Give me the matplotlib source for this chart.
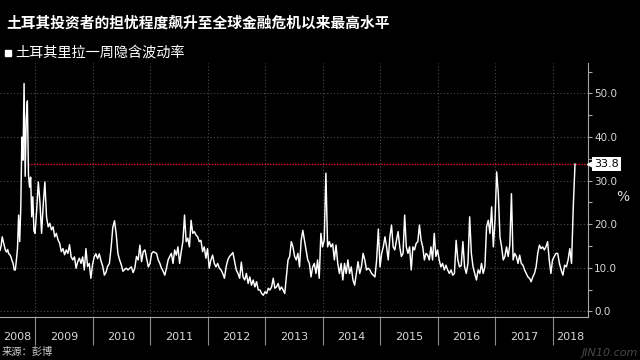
import numpy as np
import matplotlib
matplotlib.use("Agg")
import matplotlib.pyplot as plt
from matplotlib import transforms
from matplotlib.patches import Rectangle
from matplotlib.ticker import FixedLocator, MultipleLocator, FuncFormatter, NullFormatter

# ---------------- text ----------------
title = "土耳其投资者的担忧程度飙升至全球金融危机以来最高水平"
series_name = "土耳其里拉一周隐含波动率"
source = "来源：彭博"
unit = "%"
watermark = "JIN10.com"

# ---------------- data (USD/TRY 1-week implied volatility, %) ----------------
first_obs = 2008.391   # first observation shown (late May 2008)
last_obs = 2018.391    # last observation (late May 2018)

vol_2008 = [14.0, 15.0, 17.1, 16.0, 15.0, 14.0, 13.6, 14.2, 13.2, 13.0, 12.5, 11.6,
            11.0, 9.5, 9.5, 11.8, 14.5, 22.1, 16.0, 24.0, 40.0, 34.7, 52.3, 31.0,
            44.0, 48.3, 31.5, 28.5, 30.8, 21.7, 26.3, 18.5]
vol_2009 = [17.9, 23.2, 29.7, 25.0, 17.9, 24.5, 29.7, 21.7, 19.4, 20.2, 18.7, 19.4,
            17.1, 17.9, 16.4, 15.6, 13.7, 14.4, 13.0, 14.1, 13.3, 15.3, 12.5, 11.8,
            12.5, 9.9, 11.4, 12.2, 11.0, 12.5, 9.5, 14.4, 10.3, 11.0, 7.6]
vol_2010 = [10.7, 12.5, 13.2, 12.1, 13.2, 11.6, 10.4, 8.3, 9.0, 10.4, 11.0, 14.7,
            19.3, 20.8, 17.8, 13.3, 11.8, 10.7, 9.2, 9.6, 9.9, 9.5, 9.9, 10.2,
            8.9, 9.9, 12.6, 11.8, 15.2, 11.4, 13.7, 14.1, 12.2, 10.2]
vol_2011 = [11.0, 13.3, 13.7, 13.5, 13.3, 11.8, 11.0, 9.9, 9.2, 8.3, 9.9, 11.8,
            12.6, 13.3, 11.0, 14.1, 12.9, 14.8, 11.0, 13.7, 16.0, 22.1, 16.0, 16.8,
            14.8, 20.9, 17.9, 18.3, 17.5, 17.1, 16.0, 16.3, 13.7, 14.8, 12.2]
vol_2012 = [14.4, 9.9, 11.8, 12.9, 11.0, 10.2, 11.0, 9.9, 9.5, 8.7, 7.6, 10.2,
            11.8, 12.6, 13.0, 13.5, 11.5, 9.5, 8.7, 7.6, 11.3, 7.9, 7.2, 8.7,
            6.4, 7.9, 6.0, 7.2, 5.6, 6.8, 4.9, 4.9, 4.1, 3.7]
vol_2013 = [4.5, 4.1, 5.3, 4.9, 5.6, 7.6, 5.3, 5.6, 6.4, 4.9, 5.6, 4.9,
            4.1, 7.9, 11.8, 12.6, 16.0, 14.8, 12.6, 11.8, 13.3, 10.2, 16.3, 18.6,
            16.3, 14.1, 11.8, 11.0, 7.9, 10.2, 11.0, 8.7, 11.8, 7.6, 17.9]
vol_2014 = [14.8, 16.3, 31.7, 14.8, 16.0, 14.8, 15.5, 11.8, 15.2, 11.0, 8.7, 11.0,
            7.2, 11.0, 8.7, 11.8, 8.7, 10.2, 7.2, 6.0, 8.7, 11.4, 8.7, 10.2,
            13.3, 11.8, 9.5, 9.9, 9.5, 8.7, 8.3, 7.9, 11.8, 18.9]
vol_2015 = [10.2, 13.3, 14.8, 17.1, 14.8, 11.8, 17.1, 19.8, 14.8, 14.1, 16.3, 18.3,
            14.8, 12.6, 13.3, 22.1, 14.8, 13.3, 14.8, 9.5, 14.8, 14.1, 15.6, 16.0,
            19.8, 16.3, 14.8, 11.8, 13.3, 12.9, 11.8, 14.8, 11.8, 17.9, 12.6]
vol_2016 = [14.1, 11.8, 10.2, 11.0, 9.5, 10.6, 9.5, 8.7, 9.5, 8.3, 8.7, 16.3,
            11.8, 10.2, 10.5, 16.0, 10.2, 8.7, 11.0, 21.7, 13.3, 10.2, 8.7, 7.2,
            9.5, 8.7, 11.0, 8.7, 10.2, 19.4, 20.9, 17.9, 24.0, 14.8]
vol_2017 = [20.9, 32.0, 27.0, 17.1, 14.8, 11.8, 12.6, 14.8, 12.6, 15.2, 27.0, 11.8,
            13.3, 12.6, 11.0, 12.9, 11.0, 10.6, 9.5, 8.7, 7.9, 7.6, 6.8, 7.9,
            8.7, 10.2, 13.3, 15.2, 14.4, 14.8, 14.1, 14.8, 16.0, 11.8, 8.7]
vol_2018 = [11.8, 12.6, 13.3, 13.3, 11.0, 9.5, 8.3, 10.6, 10.2, 11.8, 14.4, 11.0,
            24.0, 33.8]

full_years = list(range(2009, 2018))
full_year_values = [vol_2009, vol_2010, vol_2011, vol_2012, vol_2013,
                    vol_2014, vol_2015, vol_2016, vol_2017]
year_labels = [str(y) for y in range(2008, 2019)]
y_major = [0, 10, 20, 30, 40, 50]

# ---------------- build the time axis ----------------
t_parts = [np.linspace(first_obs, 2009, len(vol_2008), endpoint=False)]
v_parts = [np.array(vol_2008)]
for yr, vals in zip(full_years, full_year_values):
    t_parts.append(np.linspace(yr, yr + 1, len(vals), endpoint=False))
    v_parts.append(np.array(vals))
t_parts.append(np.linspace(2018, last_obs, len(vol_2018)))
v_parts.append(np.array(vol_2018))
t = np.concatenate(t_parts)
v = np.concatenate(v_parts)

latest = v[-1]
# last time the series was at or above the latest level (before the latest point)
idx = np.where(v[:-1] >= latest)[0][-1]
t_cross = t[idx] + (t[idx + 1] - t[idx]) * (v[idx] - latest) / (v[idx] - v[idx + 1])

# ---------------- figure ----------------
CJK = ["Noto Sans CJK SC", "DejaVu Sans"]
fig = plt.figure(figsize=(6.4, 3.6), dpi=100, facecolor="black")
ax = fig.add_axes([0.0, 0.1194, 0.91875, 0.7056])
ax.set_facecolor("black")

xmin, xmax = first_obs, 2018.617
ax.set_xlim(xmin, xmax)
ax.set_ylim(-1.3, 57)

grid_kw = dict(color="#4d4d4d", linewidth=0.8, linestyle=(0, (1, 2)))
ax.grid(True, which="major", axis="both", **grid_kw)
ax.set_axisbelow(True)

ax.plot(t, v, color="white", linewidth=1.05, zorder=3)
ax.plot([t_cross, xmax], [latest, latest], color="#e8102a",
        linewidth=1.0, linestyle=(0, (1, 1)), zorder=2)

for s in ("left", "top"):
    ax.spines[s].set_visible(False)
for s in ("right", "bottom"):
    ax.spines[s].set_color("#a8a8a8")
    ax.spines[s].set_linewidth(0.8)

# y axis on the right
ax.yaxis.tick_right()
ax.yaxis.set_major_locator(FixedLocator(y_major))
ax.yaxis.set_minor_locator(MultipleLocator(5))
ax.yaxis.set_major_formatter(FuncFormatter(lambda val, pos: f"{val:.1f}"))
ax.tick_params(axis="y", which="both", direction="out", length=3, width=0.8,
               color="#a8a8a8", labelcolor="#d8d8d8", labelsize=7.5, pad=1.5)

# x axis: long ticks at year boundaries, labels centred in each year
ax.xaxis.set_major_locator(FixedLocator(full_years + [2018]))
ax.xaxis.set_major_formatter(NullFormatter())
centres = [(xmin + 2009) / 2] + [y + 0.5 for y in full_years] + [(2018 + xmax) / 2]
ax.xaxis.set_minor_locator(FixedLocator(centres))
ax.xaxis.set_minor_formatter(FuncFormatter(lambda val, pos: year_labels[pos]))
ax.tick_params(axis="x", which="major", direction="out", length=20, width=0.8,
               color="#8c8c8c")
ax.tick_params(axis="x", which="minor", length=0, labelsize=8,
               labelcolor="#d8d8d8", pad=11)

# latest value flag on the right axis
blend = transforms.blended_transform_factory(ax.transAxes, ax.transData)
ax.plot([1.0], [latest], marker="<", markersize=6, color="white", clip_on=False,
        transform=blend + transforms.ScaledTranslation(3 / 100, 0, fig.dpi_scale_trans),
        zorder=5)
ax.text(1.0, latest, f"{latest:.1f}", transform=blend + transforms.ScaledTranslation(
            6.5 / 100, 0, fig.dpi_scale_trans),
        ha="left", va="center", fontsize=8, color="black", zorder=6,
        bbox=dict(boxstyle="square,pad=0.2", fc="white", ec="none"))

fig.text(623 / 640, 1 - 197 / 360, unit, fontsize=10, color="#d8d8d8",
         ha="center", va="center")

# titles
fig.text(6.7 / 640, 1 - 22.5 / 360, title, family=CJK, fontsize=10.6,
         fontweight="bold", color="white", ha="left", va="center")
fig.patches.append(Rectangle((5 / 640, 1 - 55.5 / 360), 5.5 / 640, 5.5 / 360,
                             transform=fig.transFigure, color="white"))
fig.text(15 / 640, 1 - 53 / 360, series_name, family=CJK, fontsize=10.2,
         color="white", ha="left", va="center")
fig.text(1.5 / 640, 1 - 352 / 360, source, family=CJK, fontsize=7.4,
         color="#d0d0d0", ha="left", va="center")
fig.text(638 / 640, 1 - 353.5 / 360, watermark, fontsize=8, color="#5a5a5a",
         style="italic", ha="right", va="center", alpha=0.8)

fig.savefig("out.png", dpi=100, facecolor="black")
